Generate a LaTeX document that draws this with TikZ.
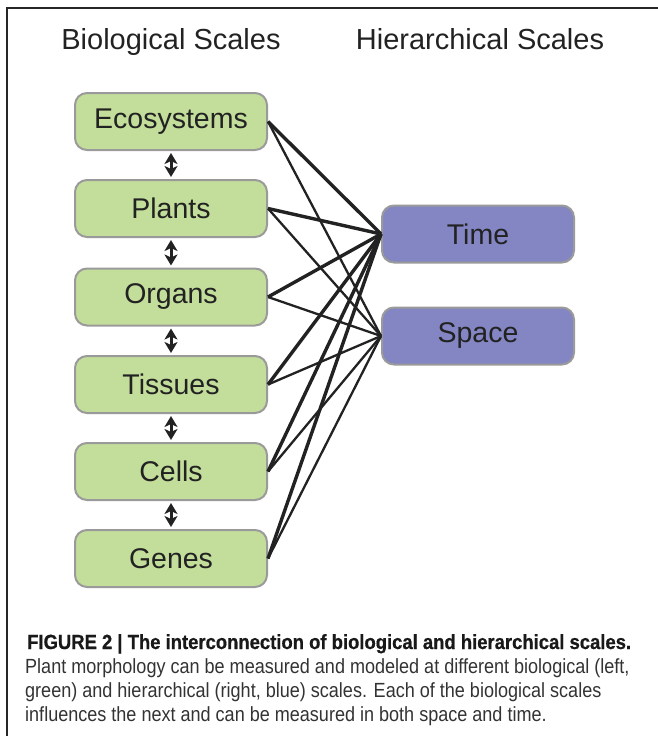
\documentclass[tikz,border=0pt]{standalone}
\usepackage{fontspec}
\usepackage{tikz}
\usepackage{xcolor}
\usetikzlibrary{arrows.meta}
\setmainfont{Liberation Sans}
\newfontfamily\capfont[FakeStretch=0.88]{Liberation Sans}
\newfontfamily\capheadfont[FakeStretch=0.9,FakeBold=0.6]{Liberation Sans Bold}
\definecolor{biogreen}{HTML}{C3DE9B}
\definecolor{hierblue}{HTML}{8386C3}
\definecolor{boxgray}{HTML}{9A9A9A}
\definecolor{inktext}{HTML}{222222}
\tikzset{
  scalebox/.style={draw=boxgray,line width=2pt,rounded corners=12pt,minimum width=192pt,minimum height=57pt,text=inktext,font=\fontsize{28.5}{30}\selectfont},
  biobox/.style={scalebox,fill=biogreen},
  hierbox/.style={scalebox,fill=hierblue},
  heavylink/.style={line width=3.4pt,inktext},
  lightlink/.style={line width=2.3pt,inktext},
  stepflow/.style={line width=3pt,inktext,shorten <=2pt,shorten >=2pt,{Stealth[length=11pt,width=13pt,inset=3pt]}-{Stealth[length=11pt,width=13pt,inset=3pt]}},
  captxt/.style={anchor=base west,inner sep=0pt,text=black!80,font=\capfont\fontsize{20.5}{24}\selectfont}
}

\begin{document}
\begin{tikzpicture}[x=1pt,y=-1pt]
\useasboundingbox (0,0) rectangle (658,736);
\draw[line width=1.5pt,black!85] (7,736) -- (7,8) -- (658,8);

\node[anchor=base,text=inktext,font=\fontsize{29}{31}\selectfont] (biotitle) at (171,49) {Biological Scales};
\node[anchor=base,text=inktext,font=\fontsize{29}{31}\selectfont] (hiertitle) at (480,49) {Hierarchical Scales};

\node[biobox] (eco) at (171,121.5) {Ecosystems};
\node[biobox] (plants) at (171,208.5) {Plants};
\node[biobox] (organs) at (171,297) {Organs};
\node[biobox] (tissues) at (171,384.5) {Tissues};
\node[biobox] (cells) at (171,471.5) {Cells};
\node[biobox] (genes) at (171,558.5) {Genes};

\node[hierbox] (time) at (478,234) {Time};
\node[hierbox] (space) at (478,336) {Space};

\draw[stepflow] (eco.south) -- (plants.north);
\draw[stepflow] (plants.south) -- (organs.north);
\draw[stepflow] (organs.south) -- (tissues.north);
\draw[stepflow] (tissues.south) -- (cells.north);
\draw[stepflow] (cells.south) -- (genes.north);

\draw[heavylink] (eco.east) -- (time.west);
\draw[heavylink] (plants.east) -- (time.west);
\draw[heavylink] (organs.east) -- (time.west);
\draw[heavylink] (tissues.east) -- (time.west);
\draw[heavylink] (cells.east) -- (time.west);
\draw[heavylink] (genes.east) -- (time.west);
\draw[lightlink] (eco.east) -- (space.west);
\draw[lightlink] (plants.east) -- (space.west);
\draw[lightlink] (organs.east) -- (space.west);
\draw[lightlink] (tissues.east) -- (space.west);
\draw[lightlink] (cells.east) -- (space.west);
\draw[lightlink] (genes.east) -- (space.west);

\node[captxt,text=black!90,font=\capheadfont\fontsize{20.5}{24}\selectfont] (caphead) at (27,649) {FIGURE 2 | The interconnection of biological and hierarchical scales.};
\node[captxt] (capone) at (25,673) {Plant morphology can be measured and modeled at different biological (left,};
\node[captxt] (captwo) at (25,697) {green) and hierarchical (right, blue) scales. Each of the biological scales};
\node[captxt] (capthree) at (25,721) {influences the next and can be measured in both space and time.};
\end{tikzpicture}
\end{document}
